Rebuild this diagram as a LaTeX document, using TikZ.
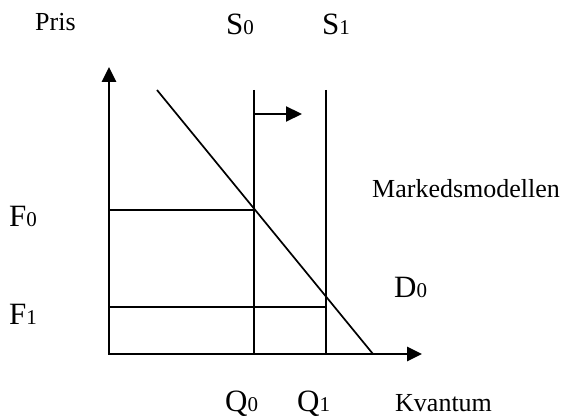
\documentclass[tikz,border=0pt]{standalone}
\usepackage{fontspec}
\setmainfont{Liberation Serif}
\usetikzlibrary{arrows.meta}
\tikzset{
  axisline/.style={line width=2.8pt, line join=miter, arrows={Triangle[length=15pt,width=14pt]-Triangle[length=15pt,width=14pt]}},
  curve/.style={line width=1.7pt},
  shiftarrow/.style={line width=2.2pt, -{Triangle[length=16pt,width=15pt]}},
  lbl/.style={anchor=base west, inner sep=0pt, font=\fontsize{26}{28}\selectfont},
  sym/.style={anchor=base west, inner sep=0pt, font=\fontsize{31}{33}\selectfont},
}
\newcommand{\sbd}[1]{{\fontsize{21}{22}\selectfont #1}}
\begin{document}
\begin{tikzpicture}[x=1pt,y=-1pt]
\useasboundingbox (0,0) rectangle (565,419);
% coordinates
\coordinate (ytip) at (109,67);
\coordinate (orig) at (109,354);
\coordinate (xtip) at (422,354);
\coordinate (s0top) at (254,90);
\coordinate (s0bot) at (254,354);
\coordinate (s1top) at (326,90);
\coordinate (s1bot) at (326,354);
\coordinate (dtop) at (157,90);
\coordinate (dbot) at (373,354);
\coordinate (f0a) at (109,210);
\coordinate (f0b) at (254,210);
\coordinate (f1a) at (109,307);
\coordinate (f1b) at (326,307);
\coordinate (sha) at (254,114);
\coordinate (shb) at (302,114);
% lines
\draw[curve] (s0top) -- (s0bot);
\draw[curve] (s1top) -- (s1bot);
\draw[curve] (dtop) -- (dbot);
\draw[curve] (f0a) -- (f0b);
\draw[curve] (f1a) -- (f1b);
\draw[shiftarrow] (sha) -- (shb);
\draw[axisline] (ytip) -- (orig) -- (xtip);
% labels
\node[lbl] (pris) at (35,31) {Pris};
\node[sym] (s0) at (226,35) {S\sbd{0}};
\node[sym] (s1) at (322,35) {S\sbd{1}};
\node[lbl] (mm) at (372,198) {Markedsmodellen};
\node[sym] (f0) at (9,227) {F\sbd{0}};
\node[sym] (f1) at (9,325) {F\sbd{1}};
\node[sym] (d0) at (394,298) {D\sbd{0}};
\node[sym] (q0) at (225,412) {Q\sbd{0}};
\node[sym] (q1) at (297,412) {Q\sbd{1}};
\node[lbl] (kv) at (395,412) {Kvantum};
\end{tikzpicture}
\end{document}
